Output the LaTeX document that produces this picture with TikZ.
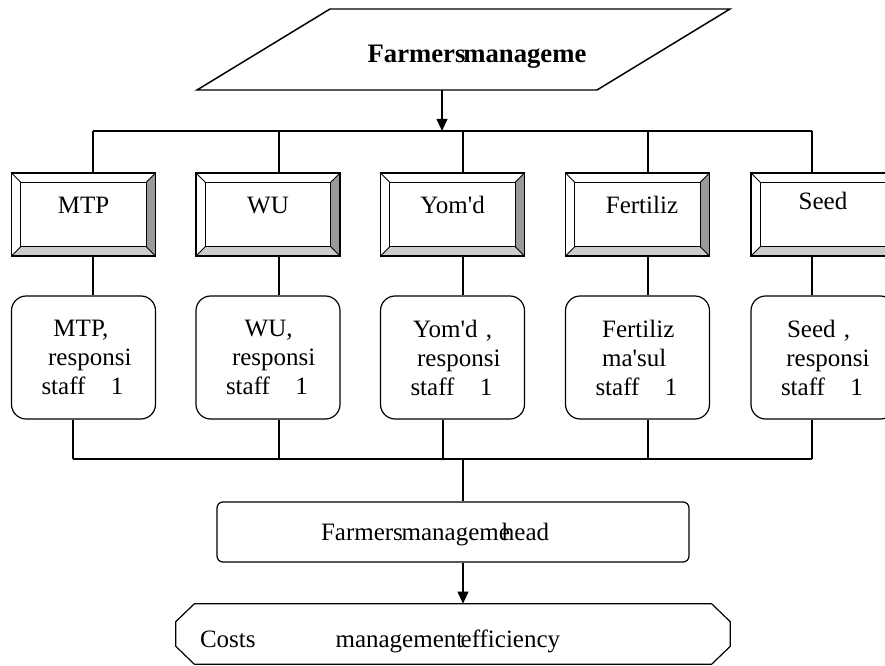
\documentclass[tikz,border=0pt]{standalone}
\usepackage{fontspec}
\setmainfont{Liberation Serif}
\usetikzlibrary{arrows.meta}
\newcommand{\ap}{\textquotesingle}
\tikzset{
	txt/.style={font=\fontsize{18.75pt}{21.75pt}\selectfont},
	link/.style={line width=0.9pt},
	arr/.style={line width=1.4pt,-{Triangle[length=9pt,width=8pt]}},
	bevelbox/.style={txt,draw,line width=1.1pt,minimum width=108pt,minimum height=62.25pt,inner sep=0pt,
		text height=13pt,text depth=15.2pt,
		path picture={
			\coordinate (pnw) at (path picture bounding box.north west);
			\coordinate (pne) at (path picture bounding box.north east);
			\coordinate (psw) at (path picture bounding box.south west);
			\coordinate (pse) at (path picture bounding box.south east);
			\coordinate (inw) at ([shift={(7pt,-7pt)}]pnw);
			\coordinate (ine) at ([shift={(-7pt,-7pt)}]pne);
			\coordinate (isw) at ([shift={(7pt,7pt)}]psw);
			\coordinate (ise) at ([shift={(-7pt,7pt)}]pse);
			\fill[gray!80] (pne) -- (pse) -- (ise) -- (ine) -- cycle;
			\fill[gray!40] (psw) -- (pse) -- (ise) -- (isw) -- cycle;
			\draw[line width=0.8pt] (inw) rectangle (ise);
			\draw[line width=0.6pt] (pnw) -- (inw) (pne) -- (ine) (psw) -- (isw) (pse) -- (ise);
		}},
	staffbox/.style={txt,draw,line width=0.9pt,rounded corners=11pt,minimum width=108pt,minimum height=92.25pt,
		text width=63pt,inner xsep=22.5pt,inner ysep=0pt,align=left,execute at begin node={\hyphenpenalty=10000}},
	headbox/.style={txt,draw,line width=0.9pt,rounded corners=4.5pt,minimum width=354pt,minimum height=45pt,
		text width=198pt,inner xsep=78pt,inner ysep=0pt,align=left,text height=15pt,text depth=3pt},
	costbox/.style={txt,minimum width=415.5pt,minimum height=45pt,
		text width=379.5pt,inner xsep=18pt,inner ysep=0pt,align=left,text height=22pt,text depth=2.5pt}
}
\begin{document}
\begin{tikzpicture}[x=0.75pt,y=-0.75pt]
	\useasboundingbox (0,0) rectangle (885,666);
	% input
	\draw[line width=1.1pt] (330,9) -- (730,9) -- (597,90) -- (197,90) coordinate (pb) -- cycle;
	\node[font=\bfseries\fontsize{20pt}{24pt}\selectfont] (title) at (477,57) {Farmers\hspace{-1.5pt}manageme};
	% top bus
	\coordinate (a0) at (442,131);
	\coordinate (a1) at (93,131);
	\coordinate (a2) at (279,131);
	\coordinate (a3) at (463,131);
	\coordinate (a4) at (648,131);
	\coordinate (a5) at (812,131);
	\draw[arr] (a0 |- pb) -- (a0);
	\draw[link] (a1) -- (a5);
	% units
	\node[bevelbox] (t1) at (83.5,214.5) {MTP};
	\node[bevelbox] (t2) at (268,214.5) {WU};
	\node[bevelbox] (t3) at (452.5,214.5) {Yom\ap d\hspace{5pt}};
	\node[bevelbox] (t4) at (637.5,214.5) {\hspace{6.75pt}Fertiliz};
	\node[bevelbox,text depth=19.75pt] (t5) at (823,214.5) {Seed\hspace{10.5pt}};
	\draw[link] (a1) -- (a1 |- t1.north);
	\draw[link] (a2) -- (a2 |- t2.north);
	\draw[link] (a3) -- (a3 |- t3.north);
	\draw[link] (a4) -- (a4 |- t4.north);
	\draw[link] (a5) -- (a5 |- t5.north);
	% staff
	\node[staffbox] (s1) at (83.5,357.5) {\hspace*{9pt}MTP,\\\hspace*{5pt}responsi\\staff\hspace{19pt}1};
	\node[staffbox] (s2) at (268,357.5) {\hspace*{14pt}WU,\\\hspace*{4.5pt}responsi\\staff\hspace{19pt}1};
	\node[staffbox] (s3) at (452.5,357.5) {\hspace*{2pt}Yom\ap d~,\\\hspace*{5pt}responsi\\staff\hspace{19pt}1};
	\node[staffbox] (s4) at (637.5,357.5) {\hspace*{5pt}Fertiliz\\\hspace*{5pt}ma\ap sul\\staff\hspace{19pt}1};
	\node[staffbox] (s5) at (823,357.5) {\hspace*{4.5pt}Seed~,\\\hspace*{4pt}responsi\\staff\hspace{19pt}1};
	\draw[link] (t1.south -| a1) -- (s1.north -| a1);
	\draw[link] (t2.south -| a2) -- (s2.north -| a2);
	\draw[link] (t3.south -| a3) -- (s3.north -| a3);
	\draw[link] (t4.south -| a4) -- (s4.north -| a4);
	\draw[link] (t5.south -| a5) -- (s5.north -| a5);
	% bottom bus
	\coordinate (b0) at (463,459);
	\coordinate (b1) at (73,459);
	\coordinate (b2) at (279,459);
	\coordinate (b3) at (443,459);
	\coordinate (b4) at (648,459);
	\coordinate (b5) at (812,459);
	\draw[link] (b1) -- (b5);
	\draw[link] (s1.south -| b1) -- (b1);
	\draw[link] (s2.south -| b2) -- (b2);
	\draw[link] (s3.south -| b3) -- (b3);
	\draw[link] (s4.south -| b4) -- (b4);
	\draw[link] (s5.south -| b5) -- (b5);
	% head and result
	\node[headbox] (head) at (453,532) {Farmers\hspace{-1pt}manageme\hspace{-6pt}head};
	\node[costbox] (cost) at (453,634) {Costs\hspace{60pt}management\hspace{-2pt}efficiency};
	\draw[link] ([xshift=14pt]cost.north west) -- ([xshift=-14pt]cost.north east) -- ([yshift=-13.5pt]cost.north east)
		-- ([yshift=13.5pt]cost.south east) -- ([xshift=-14pt]cost.south east) -- ([xshift=14pt]cost.south west)
		-- ([yshift=13.5pt]cost.south west) -- ([yshift=-13.5pt]cost.north west) -- cycle;
	\draw[link] (b0) -- (head.north -| b0);
	\draw[arr] (head.south -| b0) -- (cost.north -| b0);
\end{tikzpicture}
\end{document}
